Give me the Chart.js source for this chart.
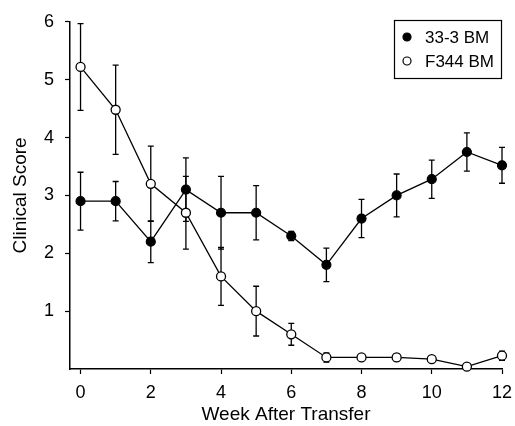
<!DOCTYPE html>
<html>
<head>
<meta charset="utf-8">
<script src="https://cdn.jsdelivr.net/npm/chart.js@4"></script>
<style>
html, body { margin: 0; padding: 0; background: #fff; }
</style>
</head>
<body>
<canvas id="scoreChart" width="515" height="426"></canvas>
<script>
const weeks = [0, 1, 2, 3, 4, 5, 6, 7, 8, 9, 10, 11, 12];
const score333 = [2.9, 2.9, 2.2, 3.1, 2.7, 2.7, 2.3, 1.8, 2.6, 3.0, 3.28, 3.75, 3.52];
const err333 = [0.5, 0.34, 0.36, 0.55, 0.63, 0.47, 0.08, 0.29, 0.33, 0.37, 0.33, 0.33, 0.31];
const scoreF344 = [5.22, 4.48, 3.2, 2.7, 1.6, 1.0, 0.6, 0.2, 0.2, 0.2, 0.17, 0.04, 0.23];
const errF344 = [0.75, 0.77, 0.65, 0.63, 0.5, 0.43, 0.19, 0.08, 0, 0.06, 0.05, 0, 0.08];
const xTicks = [0, 2, 4, 6, 8, 10, 12];
const yTicks = [1, 2, 3, 4, 5, 6];

const family = 'Arial, "Liberation Sans", Helvetica, sans-serif';
const tickFont = { family, size: 18 };
const titleFont = { family, size: 19 };
const legendFont = { family, size: 17 };

// vertical error bars with small caps, drawn under the markers
const errorBars = {
    id: 'errorBars',
    beforeDatasetsDraw(chart) {
        const { ctx, scales: { x, y } } = chart;
        ctx.save();
        ctx.strokeStyle = '#000';
        ctx.lineWidth = 1.3;
        chart.data.datasets.forEach(ds => {
            ds.data.forEach((p, i) => {
                const e = ds.errors[i];
                if (!e) return;
                const px = x.getPixelForValue(p.x);
                const top = y.getPixelForValue(p.y + e);
                const bot = y.getPixelForValue(p.y - e);
                ctx.beginPath();
                ctx.moveTo(px, top); ctx.lineTo(px, bot);
                ctx.moveTo(px - 3, top); ctx.lineTo(px + 3, top);
                ctx.moveTo(px - 3, bot); ctx.lineTo(px + 3, bot);
                ctx.stroke();
            });
        });
        ctx.restore();
    }
};

// boxed legend in the top right corner
const boxLegend = {
    id: 'boxLegend',
    afterDraw(chart) {
        const { ctx } = chart;
        ctx.save();
        ctx.strokeStyle = '#000';
        ctx.lineWidth = 1.2;
        ctx.strokeRect(394.5, 20.5, 107, 58);
        ctx.font = `${legendFont.size}px ${legendFont.family}`;
        ctx.textBaseline = 'middle';
        chart.data.datasets.forEach((ds, i) => {
            const cy = 37 + i * 24;
            ctx.beginPath();
            ctx.arc(407, cy, 4, 0, Math.PI * 2);
            ctx.fillStyle = ds.pointBackgroundColor;
            ctx.fill();
            ctx.lineWidth = 1.2;
            ctx.stroke();
            ctx.fillStyle = '#000';
            ctx.fillText(ds.label, 425, cy + 1);
        });
        ctx.restore();
    }
};

new Chart(document.getElementById('scoreChart'), {
    type: 'line',
    data: {
        datasets: [{
            label: '33-3 BM',
            data: weeks.map((w, i) => ({ x: w, y: score333[i] })),
            errors: err333,
            borderColor: '#000',
            borderWidth: 1.3,
            pointRadius: 4.5,
            pointBackgroundColor: '#000',
            pointBorderColor: '#000',
            pointBorderWidth: 1.2,
            tension: 0,
            clip: false,
        }, {
            label: 'F344 BM',
            data: weeks.map((w, i) => ({ x: w, y: scoreF344[i] })),
            errors: errF344,
            borderColor: '#000',
            borderWidth: 1.3,
            pointRadius: 4.5,
            pointBackgroundColor: '#fff',
            pointBorderColor: '#000',
            pointBorderWidth: 1.3,
            tension: 0,
            clip: false,
        }]
    },
    options: {
        responsive: false,
        animation: false,
        layout: { padding: { top: 20, right: 13, left: 0, bottom: 0 } },
        plugins: { legend: { display: false }, tooltip: { enabled: false } },
        scales: {
            x: {
                type: 'linear', min: -0.3, max: 12,
                afterBuildTicks: s => { s.ticks = xTicks.map(v => ({ value: v })); },
                afterFit: s => { s.height = 57; s.paddingLeft = 0; s.paddingRight = 0; },
                grid: { drawOnChartArea: false, tickLength: 5, color: '#000', tickWidth: 1.2 },
                border: { color: '#000', width: 1.5 },
                ticks: { color: '#000', font: tickFont, padding: 8, maxRotation: 0 },
                title: { display: true, text: 'Week After Transfer', color: '#000', font: titleFont, padding: { bottom: 0 } }
            },
            y: {
                min: 0, max: 6,
                afterBuildTicks: s => { s.ticks = yTicks.map(v => ({ value: v })); },
                afterFit: s => { s.width = 70; },
                grid: { drawOnChartArea: false, tickLength: 5, color: '#000', tickWidth: 1.2 },
                border: { color: '#000', width: 1.5 },
                ticks: { color: '#000', font: tickFont, padding: 11 },
                title: { display: true, text: 'Clinical Score', color: '#000', font: titleFont, padding: { top: 9 } }
            }
        }
    },
    plugins: [errorBars, boxLegend]
});
</script>
</body>
</html>
